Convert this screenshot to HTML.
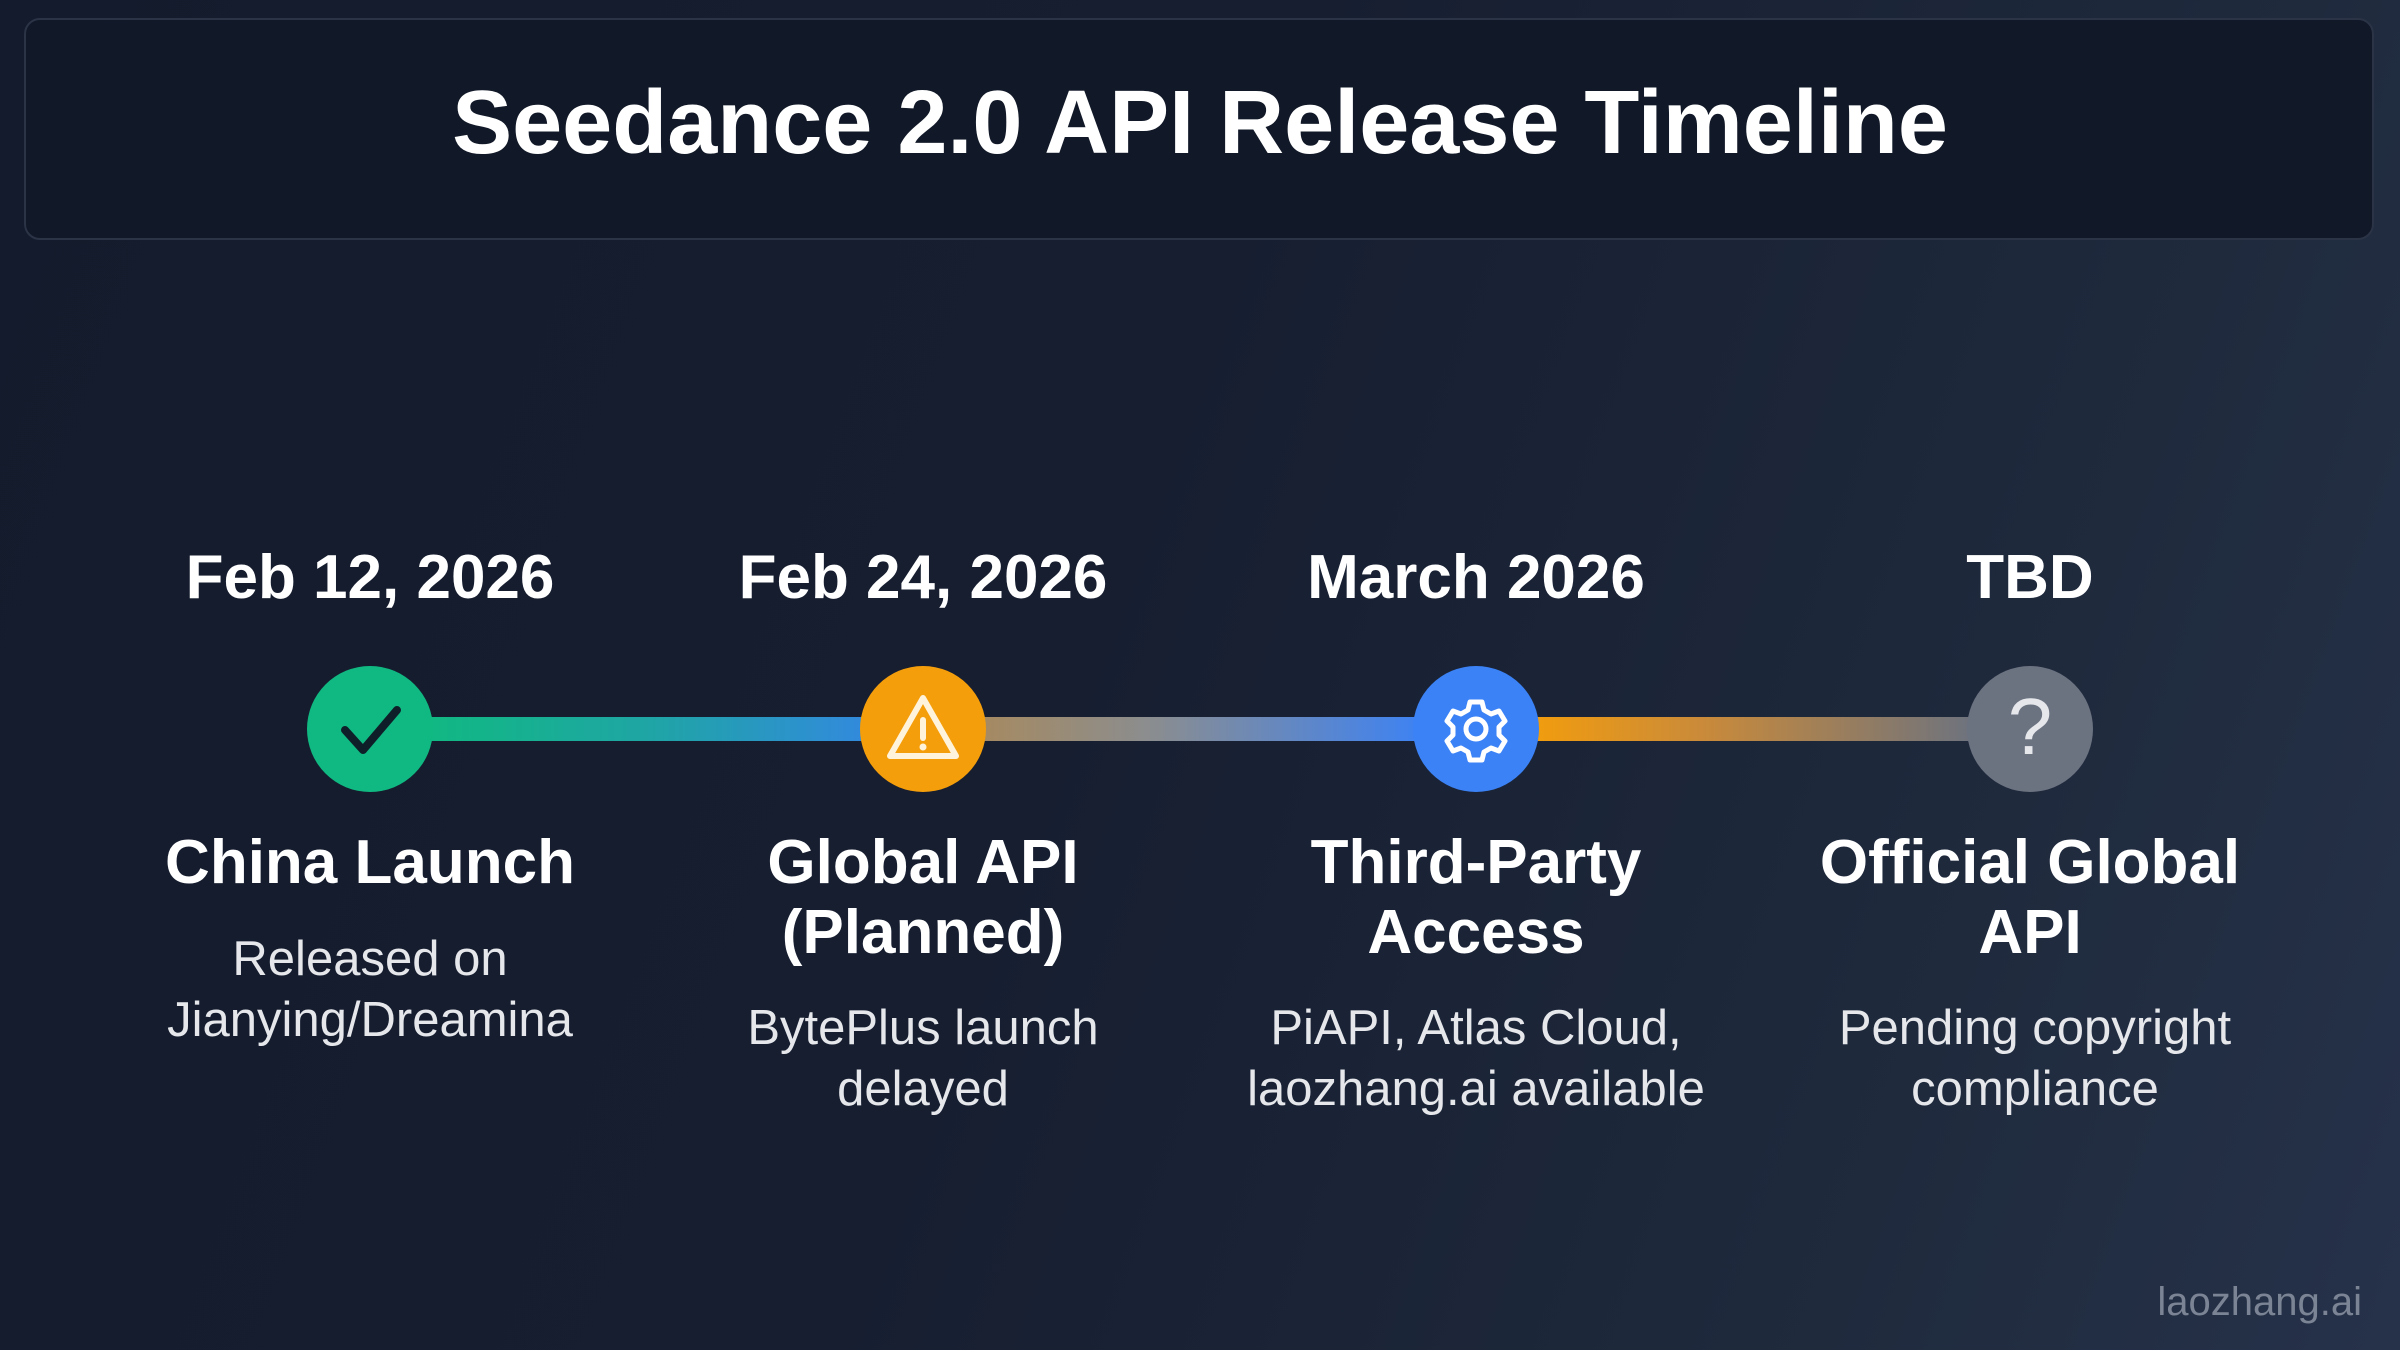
<!DOCTYPE html>
<html><head><meta charset="utf-8"><style>
html,body{margin:0;padding:0}
body{width:2400px;height:1350px;overflow:hidden;position:relative;font-family:"Liberation Sans",sans-serif;color:#fff;
background:linear-gradient(110deg,#141b2c 0%,#161e30 45%,#1f2a3d 80%,#26324a 100%);}
.tbox{position:absolute;left:24px;top:18px;width:2350px;height:222px;box-sizing:border-box;border:2px solid #2a3446;border-radius:16px;background:#111827;}
.title{position:absolute;left:0;width:2400px;top:72px;text-align:center;font-size:90px;font-weight:bold;letter-spacing:0px;}
.seg{position:absolute;top:717px;height:24px;}
.c{position:absolute;width:126px;height:126px;border-radius:50%;top:666px;}
.col{position:absolute;width:560px;text-align:center;}
.date{top:542px;font-size:62px;font-weight:bold;}
.h{top:828px;font-size:62px;font-weight:bold;line-height:70px;}
.d{font-size:49px;line-height:61px;color:#e5e7eb;}
.wm{position:absolute;right:38px;top:1280px;font-size:40px;color:#7b8494;}
</style></head><body>
<div class="tbox"></div>
<div class="title">Seedance 2.0 API Release Timeline</div>

<div class="seg" style="left:420px;width:460px;background:linear-gradient(90deg,#10b981,#1fa5a5 50%,#3388e0)"></div>
<div class="seg" style="left:970px;width:460px;background:linear-gradient(90deg,#a88a5e,#8a8d90 40%,#3b82f6)"></div>
<div class="seg" style="left:1520px;width:460px;background:linear-gradient(90deg,#f59e0b,#c98a3a 40%,#6b7280)"></div>

<div class="c" style="left:307px;background:#10b981">
<svg width="126" height="126" viewBox="0 0 126 126"><path d="M38 64 L56 84 L90 44" fill="none" stroke="#0f1f2a" stroke-width="8" stroke-linecap="round" stroke-linejoin="round"/></svg></div>
<div class="c" style="left:860px;background:#f59e0b">
<svg width="126" height="126" viewBox="0 0 126 126"><path d="M63 32 L96 90 L30 90 Z" fill="none" stroke="#fff3dc" stroke-width="6" stroke-linejoin="round"/><line x1="63" y1="54" x2="63" y2="72" stroke="#fff3dc" stroke-width="6" stroke-linecap="round"/><circle cx="63" cy="81" r="3.5" fill="#fff3dc"/></svg></div>
<div class="c" style="left:1413px;background:#3b82f6">
<svg width="126" height="126" viewBox="0 0 126 126"><g fill="none" stroke="#fff" stroke-width="5" stroke-linejoin="round"><path d="M57 36 h12 l2 8 l7 4 l8 -3 l6 10 l-6 6 v8 l6 6 l-6 10 l-8 -3 l-7 4 l-2 8 h-12 l-2 -8 l-7 -4 l-8 3 l-6 -10 l6 -6 v-8 l-6 -6 l6 -10 l8 3 l7 -4 z"/><circle cx="63" cy="63" r="10"/></g></svg></div>
<div class="c" style="left:1967px;background:#6b7280">
<div style="position:absolute;left:0;width:126px;top:16px;text-align:center;font-size:80px;color:#e5e7eb;font-weight:normal;line-height:90px">?</div></div>

<div class="col date" style="left:90px">Feb 12, 2026</div>
<div class="col date" style="left:643px">Feb 24, 2026</div>
<div class="col date" style="left:1196px">March 2026</div>
<div class="col date" style="left:1750px">TBD</div>

<div class="col h" style="left:90px">China Launch</div>
<div class="col d" style="left:90px;top:929px">Released on<br>Jianying/Dreamina</div>

<div class="col h" style="left:643px">Global API<br>(Planned)</div>
<div class="col d" style="left:643px;top:998px">BytePlus launch<br>delayed</div>

<div class="col h" style="left:1196px">Third-Party<br>Access</div>
<div class="col d" style="left:1176px;width:600px;top:998px">PiAPI, Atlas Cloud,<br>laozhang.ai available</div>

<div class="col h" style="left:1750px">Official Global<br>API</div>
<div class="col d" style="left:1755px;top:998px">Pending copyright<br>compliance</div>

<div class="wm">laozhang.ai</div>
</body></html>
